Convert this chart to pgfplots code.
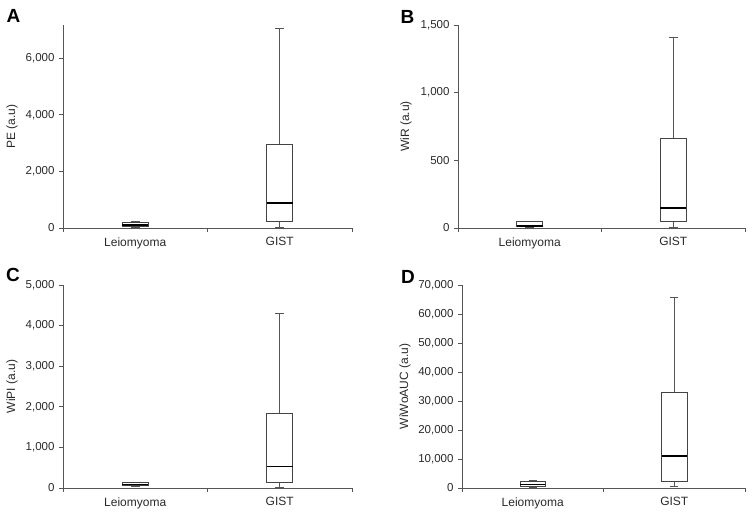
\documentclass[border=0pt]{standalone}
\usepackage{pgfplots}
\pgfplotsset{compat=1.18}
\usepgfplotslibrary{statistics}
\usepackage{fontspec}
\setmainfont{Liberation Sans}
\definecolor{axgray}{HTML}{555555}
\definecolor{txtgray}{HTML}{2A2A2A}
\definecolor{boxgray}{HTML}{444444}
\pgfplotsset{
  panel/.style={
    scale only axis,
    width=#1,
    height=203pt,
    xmin=0, xmax=2, ymin=0,
    axis lines=left,
    axis line style={axgray, line width=0.9pt, -},
    xtick={0,1,2}, xticklabels={},
    extra x ticks={0.5,1.5},
    extra x tick labels={Leiomyoma,GIST},
    extra x tick style={major tick length=0pt},
    tick align=outside,
    major tick length=4pt,
    tick style={axgray, line width=0.9pt},
    yticklabel style={font=\fontsize{11.5}{13}\selectfont, text=txtgray, xshift=-1pt},
    xticklabel style={font=\fontsize{12}{14}\selectfont, text=txtgray, yshift=-6pt},
    /pgf/number format/.cd, 1000 sep={,}, assume math mode=true,
    /pgfplots/.cd,
    scaled y ticks=false,
    label style={font=\fontsize{12}{14}\selectfont, text=txtgray},
    boxplot/draw direction=y,
    boxplot/box extend=0.18,
    boxplot/whisker extend=0.06,
    boxplot/every median/.style={black, line width=1.6pt},
    boxplot/every box/.style={boxgray, line width=0.9pt, fill=white},
    boxplot/every whisker/.style={axgray, line width=0.9pt},
    clip=false,
  },
}
\begin{document}
\begin{tikzpicture}[x=1pt,y=1pt]
\path[use as bounding box] (0,0) rectangle (753,515);
% Panel A
\begin{axis}[panel=289pt, at={(63pt,287pt)}, anchor=south west,
  ymax=7170, ytick={0,2000,4000,6000},
  ylabel={PE (a.u)},
  ylabel style={at={([xshift=-51pt]axis description cs:0,0.5)}, anchor=center}]
\addplot[boxplot prepared={lower whisker=30, lower quartile=70, median=110, upper quartile=190, upper whisker=220, draw position=0.5}] coordinates {};
\addplot[boxplot prepared={lower whisker=20, lower quartile=235, median=880, upper quartile=2960, upper whisker=7060, draw position=1.5}] coordinates {};
\end{axis}
% Panel B
\begin{axis}[panel=287pt, at={(458pt,287pt)}, anchor=south west,
  ymax=1500, ytick={0,500,1000,1500},
  ylabel={WiR (a.u)},
  ylabel style={at={([xshift=-52pt]axis description cs:0,0.5)}, anchor=center}]
\addplot[boxplot prepared={lower whisker=3, lower quartile=8, median=15, upper quartile=45, upper whisker=48, draw position=0.5}] coordinates {};
\addplot[boxplot prepared={lower whisker=5, lower quartile=48, median=148, upper quartile=660, upper whisker=1405, draw position=1.5}] coordinates {};
\end{axis}
% Panel C
\begin{axis}[panel=289pt, at={(63pt,27pt)}, anchor=south west,
  ymax=5000, ytick={0,1000,2000,3000,4000,5000},
  ylabel={WiPI (a.u)},
  ylabel style={at={([xshift=-51pt]axis description cs:0,0.5)}, anchor=center}]
\addplot[boxplot prepared={lower whisker=30, lower quartile=60, median=85, upper quartile=125, upper whisker=135, draw position=0.5}] coordinates {};
\addplot[boxplot prepared={lower whisker=20, lower quartile=133, median=530, upper quartile=1830, upper whisker=4300, draw position=1.5}] coordinates {};
\end{axis}
% Panel D
\begin{axis}[panel=283pt, at={(462pt,27pt)}, anchor=south west,
  ymax=70000, ytick={0,10000,20000,30000,40000,50000,60000,70000},
  ylabel={WiWoAUC (a.u)},
  ylabel style={at={([xshift=-57pt]axis description cs:0,0.5)}, anchor=center}]
\addplot[boxplot prepared={lower whisker=200, lower quartile=500, median=1170, upper quartile=2200, upper whisker=2550, draw position=0.5}] coordinates {};
\addplot[boxplot prepared={lower whisker=450, lower quartile=2200, median=11000, upper quartile=32800, upper whisker=65800, draw position=1.5}] coordinates {};
\end{axis}
% Panel letters
\node[font=\fontsize{19}{20}\selectfont\bfseries, text=black] at (13.5,499) {A};
\node[font=\fontsize{19}{20}\selectfont\bfseries, text=black] at (407.5,498) {B};
\node[font=\fontsize{19}{20}\selectfont\bfseries, text=black] at (13,240) {C};
\node[font=\fontsize{19}{20}\selectfont\bfseries, text=black] at (408,238) {D};
\end{tikzpicture}
\end{document}
